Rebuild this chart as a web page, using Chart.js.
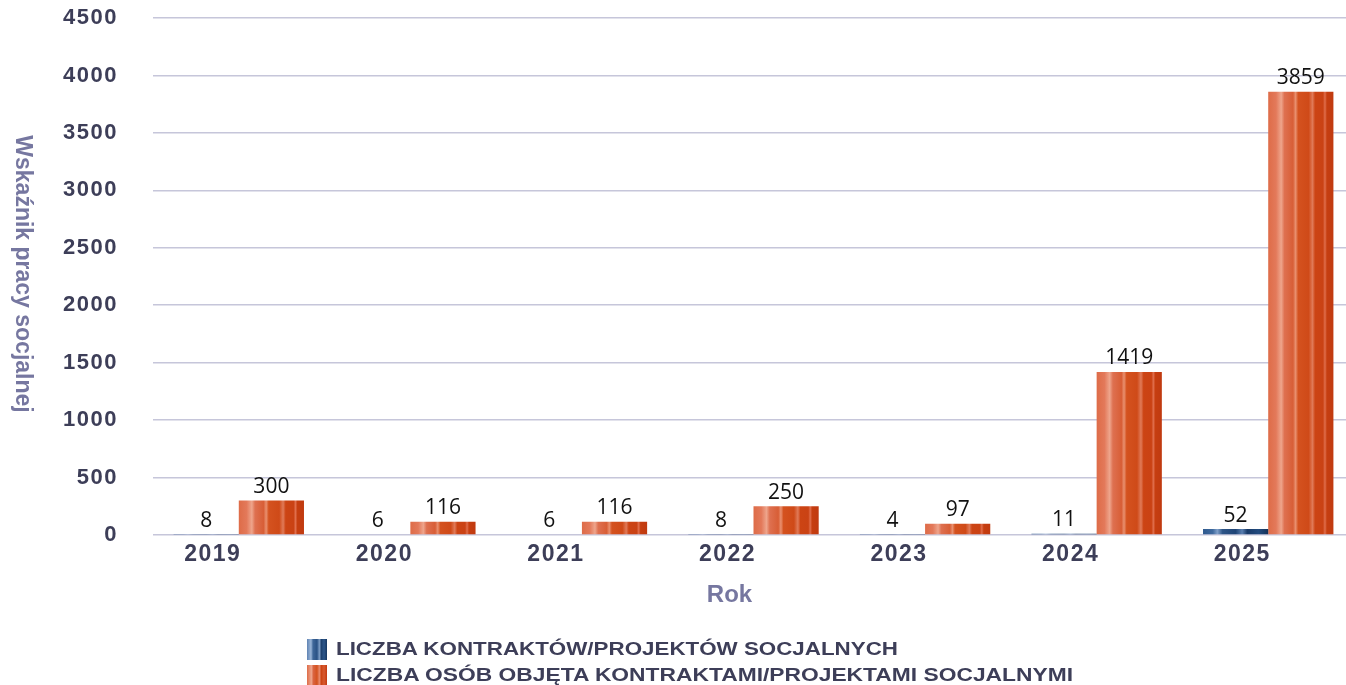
<!DOCTYPE html>
<html><head><meta charset="utf-8">
<script src="https://cdn.jsdelivr.net/npm/chart.js@4"></script>
<style>
html,body{margin:0;padding:0;background:#fff;overflow:hidden;width:1346px;height:685px}
#wrap{position:relative;width:1354px;height:685px}
canvas{display:block}
.legend{position:absolute;left:307px;top:636px;font:bold 18px "Liberation Sans",Arial,sans-serif;color:#3d3e58}
.item{display:flex;align-items:center;height:26px;white-space:nowrap}
.sw{width:20px;height:21px;margin-right:9px;flex:none}
.txt{display:inline-block;transform-origin:0 50%}
.sw.b{background:linear-gradient(90deg,#5f83b3 0%,#9bb6d8 20%,#3f6799 30%,#2a5285 50%,#7c9cc4 62%,#1d416f 72%,#2c568a 85%,#163660 100%)}
.sw.o{background:linear-gradient(90deg,#de6c48 0%,#eea58c 22%,#da6440 32%,#d4521f 50%,#e78a6c 62%,#cc4414 72%,#d85a30 85%,#c23a10 100%)}
</style></head>
<body>
<div id="wrap"><canvas id="c" width="1354" height="685"></canvas>
<div class="legend" id="legend"></div></div>
<script>
const categories = ['2019','2020','2021','2022','2023','2024','2025'];
const contracts = [8, 6, 6, 8, 4, 11, 52];
const persons = [300, 116, 116, 250, 97, 1419, 3859];
const yTickLabels = ['0','500','1000','1500','2000','2500','3000','3500','4000','4500'];
const seriesNames = ['LICZBA KONTRAKTÓW/PROJEKTÓW SOCJALNYCH', 'LICZBA OSÓB OBJĘTA KONTRAKTAMI/PROJEKTAMI SOCJALNYMI'];
const yTitle = 'Wskaźnik pracy socjalnej';
const xTitle = 'Rok';
const yMax = 4500, yStep = 500;

// legend
const legendWidths = [562, 737];
const lg = document.getElementById('legend');
seriesNames.forEach((n,i)=>{
  const it = document.createElement('div'); it.className='item';
  const sw = document.createElement('span'); sw.className='sw ' + (i===0?'b':'o');
  const t = document.createElement('span'); t.className='txt'; t.textContent = n;
  it.appendChild(sw); it.appendChild(t); lg.appendChild(it);
  const w = t.getBoundingClientRect().width;
  t.style.transform = 'scaleX(' + (legendWidths[i]/w) + ')';
});

const CAT_PCT = 0.76;
const orangeStops = [[0,'#de6c48'],[0.12,'#e3795a'],[0.2,'#eea58c'],[0.25,'#de7050'],[0.38,'#d85e36'],[0.42,'#e9906f'],[0.46,'#d4521f'],[0.62,'#cf4a18'],[0.68,'#e07a58'],[0.72,'#cc4414'],[0.84,'#ca4214'],[0.87,'#e06e4c'],[0.9,'#c63e10'],[1,'#c03a10']];
const blueStops = [[0,'#2f5a8e'],[0.15,'#3f6a9e'],[0.22,'#7f9fc8'],[0.3,'#2d5587'],[0.5,'#1f4576'],[0.6,'#5a7fb0'],[0.68,'#183a68'],[0.85,'#224b7e'],[1,'#143258']];

function stripe(stops, fallback){
  return function(ctx){
    const chart = ctx.chart;
    const xs = chart.scales && chart.scales.x;
    if(!chart.chartArea || !xs || ctx.dataIndex === undefined) return fallback;
    const catW = xs.width / categories.length;
    const barW = catW * CAT_PCT / 2;
    const c = xs.getPixelForValue(ctx.dataIndex);
    const left = c - catW*CAT_PCT/2 + ctx.datasetIndex*barW;
    const g = chart.ctx.createLinearGradient(left,0,left+barW,0);
    stops.forEach(s=>g.addColorStop(s[0],s[1]));
    return g;
  };
}

const extras = {
  id:'extras',
  beforeDraw(chart){
    const ctx = chart.ctx;
    ['x','y'].forEach(k=>{
      const s = chart.scales[k];
      if(s && !s._wrapped){
        const orig = s.drawLabels.bind(s);
        s.drawLabels = function(a){ ctx.letterSpacing = '1.5px'; orig(a); ctx.letterSpacing = '0px'; };
        s._wrapped = true;
      }
    });
  },
  afterDatasetsDraw(chart){
    const ctx = chart.ctx;
    ctx.save();
    ctx.font = '21px "Open Sans", "Liberation Sans", sans-serif';
    ctx.fillStyle = '#111';
    ctx.textAlign = 'center';
    ctx.textBaseline = 'bottom';
    chart.data.datasets.forEach((ds,i)=>{
      const meta = chart.getDatasetMeta(i);
      meta.data.forEach((el,j)=>{
        ctx.fillText(String(ds.data[j]), el.x, el.y - 3);
      });
    });
    ctx.restore();
  },
  afterDraw(chart){
    const ctx = chart.ctx, a = chart.chartArea;
    ctx.save();
    ctx.fillStyle = '#7677a0';
    ctx.font = 'bold 23px "Liberation Sans", Arial, sans-serif';
    ctx.textAlign = 'center';
    ctx.textBaseline = 'middle';
    ctx.translate(22, 274);
    ctx.rotate(Math.PI/2);
    ctx.fillText(yTitle, 0, 0);
    ctx.restore();
    ctx.save();
    ctx.fillStyle = '#7677a0';
    ctx.font = 'bold 24px "Liberation Sans", Arial, sans-serif';
    ctx.textAlign = 'center';
    ctx.textBaseline = 'middle';
    ctx.fillText(xTitle, (a.left + a.right)/2 - 24, 595);
    ctx.restore();
  }
};

new Chart(document.getElementById('c'), {
  type:'bar',
  data:{
    labels: categories,
    datasets:[
      {label: seriesNames[0], data: contracts, backgroundColor: stripe(blueStops,'#1f3f6e'), borderWidth:0},
      {label: seriesNames[1], data: persons, backgroundColor: stripe(orangeStops,'#d4521f'), borderWidth:0}
    ]
  },
  options:{
    responsive:false,
    animation:false,
    layout:{padding:{top:18,left:0,right:0,bottom:0}},
    plugins:{legend:{display:false}, tooltip:{enabled:false}},
    datasets:{bar:{categoryPercentage:CAT_PCT, barPercentage:1}},
    scales:{
      x:{
        grid:{display:false, drawTicks:false},
        border:{display:false},
        ticks:{color:'#3d3e58', font:{family:'"Liberation Sans", Arial, sans-serif', size:23, weight:'bold'}, padding:6, labelOffset:-26, maxRotation:0},
        afterFit(s){ s.height = 150; s.paddingTop = 0; s.paddingBottom = 0; }
      },
      y:{
        min:0, max:yMax,
        grid:{color:'#c6c6da', lineWidth:1.5, drawTicks:false},
        border:{display:false},
        ticks:{stepSize:yStep, color:'#3d3e58', font:{family:'"Liberation Sans", Arial, sans-serif', size:22, weight:'bold'}, padding:35,
          callback:(v,i)=>yTickLabels[i]},
        afterFit(s){ s.width = 153; s.paddingTop = 0; s.paddingBottom = 0; }
      }
    }
  },
  plugins:[extras]
});
</script>
</body></html>
